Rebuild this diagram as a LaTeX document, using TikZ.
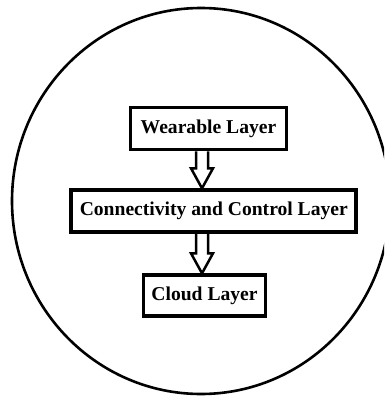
\documentclass[tikz,border=0pt]{standalone}
\usepackage{fontspec}
\setmainfont{Liberation Serif}
\usetikzlibrary{calc}
\tikzset{
  layerbox/.style={draw=black, line width=3.8pt, fill=white, rectangle, inner sep=0pt,
    font=\fontsize{19.6}{22}\selectfont\bfseries},
  blockarrow/.style={draw=black, line width=2.5pt, fill=white, line join=miter},
}
\begin{document}
\begin{tikzpicture}[x=1pt, y=-1pt]
  \useasboundingbox (0,0) rectangle (384,396);
  \clip (0,0) rectangle (384,396);
  % enclosing outline
  \draw[line width=2.6pt] (201,201) ellipse [x radius=189, y radius=193];
  % the three layers
  \node[layerbox, minimum width=156pt, minimum height=42pt] (w) at (208.5,128.5) {Wearable Layer};
  \node[layerbox, minimum width=285pt, minimum height=42pt] (c) at (213.8,211.2) {Connectivity and Control Layer};
  \node[layerbox, minimum width=122pt, minimum height=41pt] (d) at (204.5,295.7) {Cloud Layer};
  % axis of the hollow block arrows
  \coordinate (ax) at (202,0);
  \draw[blockarrow] let \p1=(w.south -| ax), \p2=(c.north -| ax) in
    (\x1-6pt,\y1) -- (\x1-6pt,\y2+20pt) -- (\x1-11pt,\y2+20pt) -- (\p2)
    -- (\x1+11pt,\y2+20pt) -- (\x1+6pt,\y2+20pt) -- (\x1+6pt,\y1);
  \draw[blockarrow] let \p1=(c.south -| ax), \p2=(d.north -| ax) in
    (\x1-6pt,\y1) -- (\x1-6pt,\y2+20pt) -- (\x1-11pt,\y2+20pt) -- (\p2)
    -- (\x1+11pt,\y2+20pt) -- (\x1+6pt,\y2+20pt) -- (\x1+6pt,\y1);
\end{tikzpicture}
\end{document}
